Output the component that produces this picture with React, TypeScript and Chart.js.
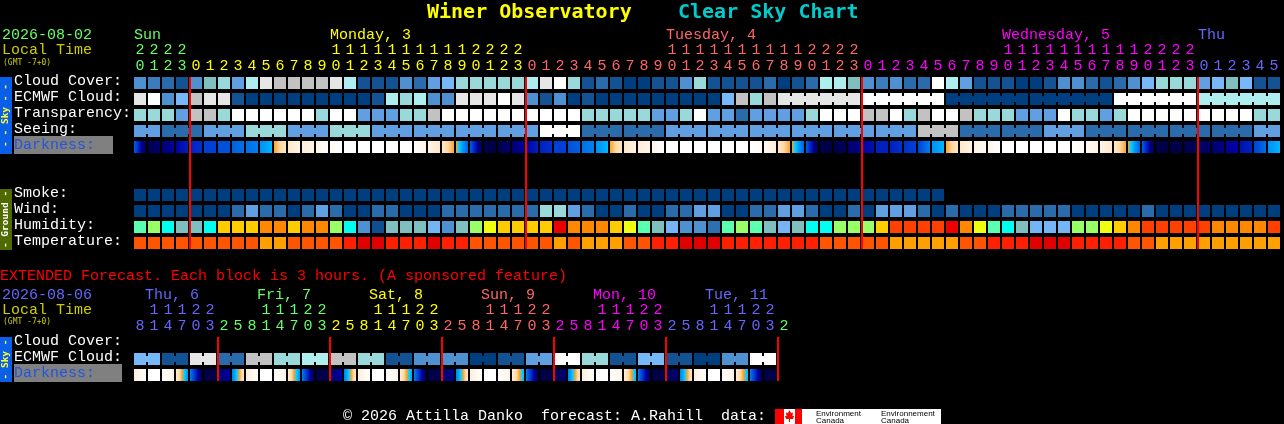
import React, { useEffect, useRef } from "react";
import { Chart, registerables } from "chart.js";

Chart.register(...registerables);

const MONO = '"Liberation Mono", monospace';
const SIDE = '"DejaVu Sans Mono", monospace';

// ---------- palettes ----------
const skyPalette = ["#003f7f", "#135393", "#2a6bab", "#3b7cbc", "#4f90d0", "#60a0e2", "#77b8f8", "#80bfbf", "#99d9d9", "#aeeeee", "#c2c2c2", "#e6e6e6", "#ffffff"];
const humidityPalette = ["#104e90", "#2e6fb0", "#4f90d0", "#75b5f5", "#80bfbf", "#00ffee", "#5affb0", "#99ff66", "#eeff10", "#ffcc00", "#ff8800", "#ff4000", "#ee0000"];
const temperaturePalette = ["#e00000", "#ff2000", "#ff5500", "#ffa000"];
const darknessPalette = ["#ffffff", "#fff4e6", "#ffe8c8", "#ffd8a0", "#ffa030", "#00d0ff", "#00a0ff", "#0080f0", "#0060e0", "#0040d8", "#0020c0", "#0000a0", "#000070", "#000048"];

// ---------- main forecast ----------
const hourLabels = ["20","21","22","23","0","1","2","3","4","5","6","7","8","9","10","11","12","13","14","15","16","17","18","19","20","21","22","23",
  "0","1","2","3","4","5","6","7","8","9","10","11","12","13","14","15","16","17","18","19","20","21","22","23",
  "0","1","2","3","4","5","6","7","8","9","10","11","12","13","14","15","16","17","18","19","20","21","22","23",
  "0","1","2","3","4","5"];
const dayLabels = ["Sun", "Monday, 3", "Tuesday, 4", "Wednesday, 5", "Thu"];
const dayLabelCols = [0, 14, 38, 62, 76];
const dayColors = ["#66ff66", "#ffff00", "#ff6666", "#ff00ff", "#6666ff"];
const dayStarts = [4, 28, 52, 76];
const rowLabels = ["Cloud Cover:", "ECMWF Cloud:", "Transparency:", "Seeing:", "Darkness:", "Smoke:", "Wind:", "Humidity:", "Temperature:"];
const rowIndex = [0, 1, 2, 3, 4, 7, 8, 9, 10];

const cloudCover = [4,3,2,1,4,7,8,5,9,11, 10,10,10,10,11,9,1,1,1,4, 2,5,6,8,8,8,8,8,9,11, 12,8,1,2,1,0,0,1,1,4, 8,1,1,1,1,2,0,1,2,9, 9,7,4,3,4,2,2,12,9,5, 1,1,1,0,0,1,4,4,2,1, 2,4,6,8,8,8,5,6,7,6, 1,1];
const ecmwfCloud = [11,12,4,6,10,11,11,1,0,0, 0,0,0,0,0,0,0,1,9,8, 9,4,4,11,11,11,12,11,4,1, 4,0,1,0,0,0,0,0,0,0, 0,0,6,10,8,10,11,11,11,11, 11,11,12,12,12,12,12,12,0,0, 0,0,0,0,0,0,0,0,0,0, 12,12,12,12,12,12,9,9,9,9, 9,9];
const transparency = [8,8,8,5,10,10,8,12,12,12, 12,12,12,8,12,12,5,5,5,8, 8,10,12,12,12,12,12,12,12,12, 12,12,8,8,8,8,8,5,5,8, 12,5,5,2,5,5,5,5,8,12, 12,12,10,10,12,8,10,12,12,10, 8,8,8,5,5,5,12,8,8,5, 8,12,12,12,12,12,12,12,12,12, 8,8];
const seeing = [5,5,2,2,2,5,5,5,8,8, 8,5,5,5,8,8,8,5,5,5, 5,5,5,5,5,5,5,5,5,12, 12,12,2,2,2,2,2,2,5,5, 5,5,5,5,5,5,5,5,5,5, 5,5,5,5,5,5,10,10,10,2, 2,2,2,2,2,5,5,5,2,2, 2,2,2,2,2,2,2,2,2,2, 5,5];
const darkness = [[8,13],[13,12],[12,11],[11,10],[10,9.5],[9,9],[8.5,8.5],[8,7.5],[7.5,7],[6.5,5.5],
  [4,2],[2,1],[1.5,1],[1,0],[0.5,0],[0,0],[0,0],[0,0],[0,0],[0,0],
  [0,1],[1,2],[2,4],[4,8],[8,13],[13,13],[13,12],[12,11],[11,10],[10,9.5],
  [9,9],[8.5,8],[7.5,7],[6.5,5.5],[4,2],[2,1],[1.5,1],[1,0],[0,0],[0,0],
  [0,0],[0,0],[0,0],[0,0],[0,0.5],[0.5,1.5],[2,4],[4,8],[8,13],[13,13],
  [13,12.5],[12,11.5],[11,10.5],[10,10],[10,9.5],[9.5,9],[9,7],[6.5,5.5],[4,2],[2,1],
  [1,0.5],[1,0],[0,0],[0,0],[0,0],[0,0],[0,0],[0,0.5],[0.5,1],[1,2],
  [2,4],[4,8],[8,13],[13,13],[13,13],[13,12.5],[12.5,12],[12,11.5],[11,11],[10.5,10],
  [9,7.5],[6.5,5.5]];
const smoke = [0,0,0,0,0,0,0,0,0,0, 0,0,0,0,0,0,0,0,0,0, 0,0,0,0,0,0,0,0,0,0, 0,0,0,0,0,0,0,0,0,0, 0,0,0,0,0,0,0,0,0,0, 0,0,0,0,0,0,0,0];
const wind = [0,0,0,0,0,0,0,2,5,2, 2,0,2,5,2,0,0,2,2,0, 0,0,2,2,2,2,2,2,2,8, 8,5,2,0,0,2,0,0,2,2, 5,5,0,0,2,2,5,5,2,0, 0,2,0,5,5,5,2,0,2,0, 0,0,2,2,2,2,2,0,0,0, 0,0,2,0,0,0,0,0,0,0, 0,0];
const humidity = [6,7,5,4,4,5,9,9,9,10, 10,9,10,10,7,5,2,0,4,4, 4,3,2,4,7,8,9,9,9,9, 12,10,10,10,9,8,6,4,3,2, 2,1,6,7,6,4,3,4,5,5, 7,7,7,9,11,11,11,11,12,10, 8,6,5,4,3,3,3,7,7,8, 9,10,11,11,11,11,11,10,10,10, 10,11];
const temperature = [2,2,2,2,2,2,2,2,2,3, 3,2,2,2,2,1,0,0,1,1, 1,0,1,1,2,2,2,2,2,2, 3,2,3,3,3,2,2,1,1,0, 0,0,1,1,1,1,1,1,1,2, 2,2,2,2,3,3,3,3,3,2, 2,1,1,1,0,0,0,1,1,1, 1,2,2,3,3,3,3,3,3,3, 3,3];
const ecmwfBlocks = [[46,51],[52,57],[58,63],[64,69],[70,75],[76,81]];
const seeingBlocks = [[0,1],[2,4],[5,7],[8,10],[11,13],[14,16],[17,19],[20,22],[23,25],[26,28],[29,31],[32,34],[35,37],[38,40],[41,43],[44,46],[47,49],[50,52],[53,55],[56,58],[59,61],[62,64],[65,67],[68,70],[71,73],[74,76],[77,79],[80,81]];

// ---------- extended forecast ----------
const extHourLabels = ["8","11","14","17","20","23","2","5","8","11","14","17","20","23","2","5","8","11","14","17","20","23","2","5","8","11","14","17","20","23","2","5","8","11","14","17","20","23","2","5","8","11","14","17","20","23","2"];
const extDayLabels = ["Thu, 6", "Fri, 7", "Sat, 8", "Sun, 9", "Mon, 10", "Tue, 11"];
const extDayStarts = [6, 14, 22, 30, 38, 46];
const extDayColors = ["#6666ff", "#66ff66", "#ffff00", "#ff6666", "#ff00ff", "#6666ff", "#66ff66"];
const extRowLabels = ["Cloud Cover:", "ECMWF Cloud:", "Darkness:"];
const extRowIndex = [0, 1, 2];
const extEcmwf = [6,6,1,1,11,11,2,2,10,10,8,8,9,9,10,10,8,8,1,1,4,4,4,4,0,0,1,1,5,5,12,12,8,8,1,1,6,6,1,1,0,0,4,4,12,12];
const extDarkness = [[1.5,0],[0,0],[0,1],[1.5,6.5],[7,13],[13,13],[12,11],[7,2],
  [1.5,0],[0,0],[0,1],[1.5,6.5],[7,13],[13,13],[12,11],[7,2],
  [1.5,0],[0,0],[0,1],[1.5,6],[7,13],[13,13],[12,11.5],[7,2],
  [1.5,0],[0,0],[0,1],[1.5,5.5],[7,13],[13,13],[12.5,12],[7,2],
  [1.5,0],[0,0],[0,1],[1.5,5.5],[7,13],[13,13],[12.5,12],[7,2],
  [1.5,0],[0,0],[0,1],[1.5,5.5],[7,13],[13,13]];
const extBlocks = [[0,1],[2,3],[4,5],[6,7],[8,9],[10,11],[12,13],[14,15],[16,17],[18,19],[20,21],[22,23],[24,25],[26,27],[28,29],[30,31],[32,33],[34,35],[36,37],[38,39],[40,41],[42,43],[44,45]];

// ---------- helpers ----------
const CELL_H = 0.75;
function hexRgb(h: string) { return [1, 3, 5].map((i) => parseInt(h.slice(i, i + 2), 16)); }
function levelColor(l: number) {
  const a = Math.floor(l), b = Math.min(a + 1, darknessPalette.length - 1), t = l - a;
  const ca = hexRgb(darknessPalette[a]), cb = hexRgb(darknessPalette[b]);
  return `rgb(${ca.map((v, i) => Math.round(v + (cb[i] - v) * t)).join(",")})`;
}
function cellRow(values: number[], row: number, palette: string[]) {
  return {
    data: values.map(() => [row, row + CELL_H]),
    backgroundColor: values.map((v) => palette[v]),
    barPercentage: 1, categoryPercentage: 1, maxBarThickness: 12, inflateAmount: 0, borderWidth: 0, grouped: false,
  };
}
function bridgeRow(values: number[], row: number, blocks: number[][]) {
  const pts: any[] = [], cols: string[] = [];
  blocks.forEach(([s, e]) => {
    for (let i = s; i < e; i++) {
      pts.push({ x: i + 1, y: [row + 0.1875, row + 0.5625] });
      cols.push(skyPalette[values[i]]);
    }
  });
  return { xAxisID: "xb", data: pts, backgroundColor: cols, barPercentage: 1, categoryPercentage: 1, maxBarThickness: 2, inflateAmount: 0, borderWidth: 0, grouped: false };
}
function darkRow(values: number[][], row: number) {
  return {
    data: values.map(() => [row, row + CELL_H]),
    backgroundColor: (c: any) => {
      const idx = c.dataIndex;
      const sx = c.chart.scales?.x;
      if (idx === undefined || !sx) return "#000";
      const [from, to] = values[idx];
      const cx = sx.getPixelForValue(idx);
      if (!Number.isFinite(cx)) return "#000";
      const g = c.chart.ctx.createLinearGradient(cx - 6, 0, cx + 6, 0);
      g.addColorStop(0, levelColor(from));
      const span = to - from;
      if (span !== 0) {
        const lo = Math.min(from, to), hi = Math.max(from, to);
        for (let l = Math.ceil(lo); l <= Math.floor(hi); l++) g.addColorStop((l - from) / span, levelColor(l));
      }
      g.addColorStop(1, levelColor(to));
      return g;
    },
    barPercentage: 1, categoryPercentage: 1, maxBarThickness: 12, inflateAmount: 0, borderWidth: 0, grouped: false,
  };
}
function splitHour(h: string) { return h.length > 1 ? [h[0], h[1]] : ["", h]; }
function colorByStarts(index: number, starts: number[], colors: string[]) {
  let k = 0;
  starts.forEach((s) => { if (index >= s) k++; });
  return colors[k];
}

type T = { t: string; x: number; y: number; c: string; f: string };
function drawTexts(ctx: CanvasRenderingContext2D, list: T[]) {
  ctx.textBaseline = "alphabetic";
  ctx.textAlign = "left";
  list.forEach((i) => { ctx.font = i.f; ctx.fillStyle = i.c; ctx.fillText(i.t, i.x, i.y); });
}
function sideBar(ctx: CanvasRenderingContext2D, top: number, bottom: number, fill: string, color: string, text: string, font: string) {
  ctx.fillStyle = fill;
  ctx.fillRect(0, top, 12, bottom - top);
  ctx.save();
  ctx.translate(6, (top + bottom) / 2);
  ctx.rotate(-Math.PI / 2);
  ctx.font = font;
  ctx.fillStyle = color;
  ctx.textAlign = "center";
  ctx.textBaseline = "middle";
  ctx.fillText(text, 0, 0);
  ctx.restore();
}
function redLines(chart: any, cols: number[]) {
  const { ctx, chartArea: a, scales } = chart;
  ctx.fillStyle = "#ff0000";
  cols.forEach((c) => {
    const x = scales.x.getPixelForValue(c) - 7;
    ctx.fillRect(x, a.top, 2, a.bottom - a.top);
  });
}
function noAxisPadding(s: any) {
  s.paddingLeft = 0; s.paddingRight = 0; s.paddingTop = 0; s.paddingBottom = 0;
}

const F15 = `15px ${MONO}`;
const F8 = `8px ${SIDE}`;
const TITLE = `bold 20px ${SIDE}`;
const FSIDE = `bold 9.5px ${SIDE}`;

function baseOptions(opts: { rows: number[]; rowNames: string[]; yMax: number; xMax: number; pad: any; xHeight: number; colColor: (i: number) => string; boxRight: number; darkIdx: number }) {
  return {
    animation: false as const,
    responsive: false,
    devicePixelRatio: 1,
    layout: { padding: opts.pad, autoPadding: false },
    plugins: { legend: { display: false }, tooltip: { enabled: false } },
    scales: {
      x: {
        type: "category" as const,
        position: "top" as const,
        offset: true,
        grid: { display: false, drawTicks: false },
        border: { display: false },
        afterFit: (s: any) => { s.height = opts.xHeight; noAxisPadding(s); },
        ticks: {
          autoSkip: false, maxRotation: 0, minRotation: 0, padding: 3,
          font: { family: MONO, size: 15, lineHeight: "16px" },
          color: (c: any) => opts.colColor(c.index),
        },
      },
      xb: { type: "linear" as const, display: false, offset: false, min: 0, max: opts.xMax },
      y: {
        type: "linear" as const,
        reverse: true,
        min: 0,
        max: opts.yMax,
        grid: { display: false, drawTicks: false },
        border: { display: false },
        afterFit: (s: any) => { s.width = 119; noAxisPadding(s); },
        afterBuildTicks: (s: any) => { s.ticks = opts.rows.map((r) => ({ value: r + 0.25 })); },
        ticks: {
          autoSkip: false,
          crossAlign: "far" as const,
          font: { family: MONO, size: 15 },
          color: (c: any) => (c.index === opts.darkIdx ? "#2255dd" : "#ffffff"),
          callback: (_: any, i: number) => opts.rowNames[i],
          showLabelBackdrop: (c: any) => c.index === opts.darkIdx,
          backdropColor: "#808080",
          backdropPadding: { left: 0, right: opts.boxRight, top: 0, bottom: 0 },
        },
      },
    },
  };
}

export default function App() {
  const mainRef = useRef<HTMLCanvasElement>(null);
  const extRef = useRef<HTMLCanvasElement>(null);

  useEffect(() => {
    document.body.style.margin = "0";
    document.body.style.background = "#000";
    document.body.style.overflow = "hidden";

    const main = new Chart(mainRef.current as HTMLCanvasElement, {
      type: "bar",
      data: {
        labels: hourLabels.map(splitHour) as any,
        datasets: [
          cellRow(cloudCover, rowIndex[0], skyPalette),
          cellRow(ecmwfCloud, rowIndex[1], skyPalette),
          bridgeRow(ecmwfCloud, rowIndex[1], ecmwfBlocks),
          cellRow(transparency, rowIndex[2], skyPalette),
          cellRow(seeing, rowIndex[3], skyPalette),
          bridgeRow(seeing, rowIndex[3], seeingBlocks),
          darkRow(darkness, rowIndex[4]),
          cellRow(smoke, rowIndex[5], skyPalette),
          cellRow(wind, rowIndex[6], skyPalette),
          cellRow(humidity, rowIndex[7], humidityPalette),
          cellRow(temperature, rowIndex[8], temperaturePalette),
        ] as any,
      },
      options: baseOptions({
        rows: rowIndex, rowNames: rowLabels, yMax: 10.75, xMax: 82,
        pad: { left: 14, right: 3, top: 0, bottom: 6 }, xHeight: 77,
        colColor: (i) => colorByStarts(i, dayStarts, dayColors), boxRight: 18, darkIdx: 4,
      }) as any,
      plugins: [{
        id: "decor",
        afterDatasetsDraw(chart: any) {
          const { ctx, scales } = chart;
          redLines(chart, dayStarts);
          sideBar(ctx, 77, 154, "#0a5fe8", "#ffff33", "- - Sky - -", FSIDE);
          sideBar(ctx, 189, 250, "#4f6b00", "#ffffff", "- Ground -", FSIDE);
          const texts: T[] = [
            { t: "Winer Observatory", x: 427, y: 18, c: "#ffff00", f: TITLE },
            { t: "Clear Sky Chart", x: 678, y: 18, c: "#00cccc", f: TITLE },
            { t: "2026-08-02", x: 2, y: 39, c: "#66ff66", f: F15 },
            { t: "Local Time", x: 2, y: 54, c: "#cccc00", f: F15 },
            { t: "(GMT -7+0)", x: 3, y: 65, c: "#cccc00", f: F8 },
          ];
          dayLabels.forEach((d, i) => texts.push({
            t: d, x: scales.x.getPixelForValue(dayLabelCols[i]) - 6, y: 39, c: dayColors[i], f: F15,
          }));
          drawTexts(ctx, texts);
        },
      }],
    });

    const OFFSET = 255;
    const ext = new Chart(extRef.current as HTMLCanvasElement, {
      type: "bar",
      data: {
        labels: extHourLabels.map(splitHour) as any,
        datasets: [
          cellRow(extEcmwf, extRowIndex[1], skyPalette),
          bridgeRow(extEcmwf, extRowIndex[1], extBlocks),
          darkRow(extDarkness, extRowIndex[2]),
        ] as any,
      },
      options: baseOptions({
        rows: extRowIndex, rowNames: extRowLabels, yMax: 2.75, xMax: 47,
        pad: { left: 14, right: 493, top: 0, bottom: 43 }, xHeight: 82,
        colColor: (i) => colorByStarts(i, extDayStarts, extDayColors), boxRight: 27, darkIdx: 2,
      }) as any,
      plugins: [{
        id: "decor",
        afterDatasetsDraw(chart: any) {
          const { ctx, scales } = chart;
          redLines(chart, extDayStarts);
          ctx.save();
          ctx.translate(0, -OFFSET);
          sideBar(ctx, 337, 382, "#0a5fe8", "#ffff33", "- Sky -", FSIDE);
          const texts: T[] = [
            { t: "EXTENDED Forecast. Each block is 3 hours. (A sponsored feature)", x: 0, y: 280, c: "#ff0000", f: F15 },
            { t: "2026-08-06", x: 2, y: 299, c: "#6666ff", f: F15 },
            { t: "Local Time", x: 2, y: 314, c: "#cccc00", f: F15 },
            { t: "(GMT -7+0)", x: 3, y: 324, c: "#cccc00", f: F8 },
            { t: "\u00a9 2026 Attilla Danko  forecast: A.Rahill  data:", x: 343, y: 420, c: "#ffffff", f: F15 },
          ];
          extDayLabels.forEach((d, i) => texts.push({
            t: d, x: scales.x.getPixelForValue(extDayStarts[i] - 6) + 5, y: 299, c: extDayColors[i], f: F15,
          }));
          drawTexts(ctx, texts);
          // Environment Canada logo
          ctx.fillStyle = "#ffffff";
          ctx.fillRect(775, 409, 166, 15);
          ctx.fillStyle = "#ff0000";
          ctx.fillRect(775, 409, 9, 15);
          ctx.fillRect(795, 409, 7, 15);
          ctx.beginPath();
          [[789.5,410],[791,413],[793,412.5],[792.5,416],[794,416],[793,419],[790,419],[790,422],[789,422],[789,419],[786,419],[785,416],[786.5,416],[786,412.5],[788,413]]
            .forEach(([x, y], i) => (i ? ctx.lineTo(x, y) : ctx.moveTo(x, y)));
          ctx.closePath();
          ctx.fill();
          drawTexts(ctx, [
            { t: "Environment", x: 816, y: 416, c: "#000000", f: "8px Liberation Sans" },
            { t: "Canada", x: 816, y: 423, c: "#000000", f: "8px Liberation Sans" },
            { t: "Environnement", x: 881, y: 416, c: "#000000", f: "8px Liberation Sans" },
            { t: "Canada", x: 881, y: 423, c: "#000000", f: "8px Liberation Sans" },
          ]);
          ctx.restore();
        },
      }],
    });

    return () => { main.destroy(); ext.destroy(); };
  }, []);

  return (
    <div style={{ position: "relative", width: 1284, height: 424, background: "#000", overflow: "hidden" }}>
      <canvas ref={mainRef} width={1284} height={255} style={{ position: "absolute", left: 0, top: 0 }} />
      <canvas ref={extRef} width={1284} height={169} style={{ position: "absolute", left: 0, top: 255 }} />
    </div>
  );
}
